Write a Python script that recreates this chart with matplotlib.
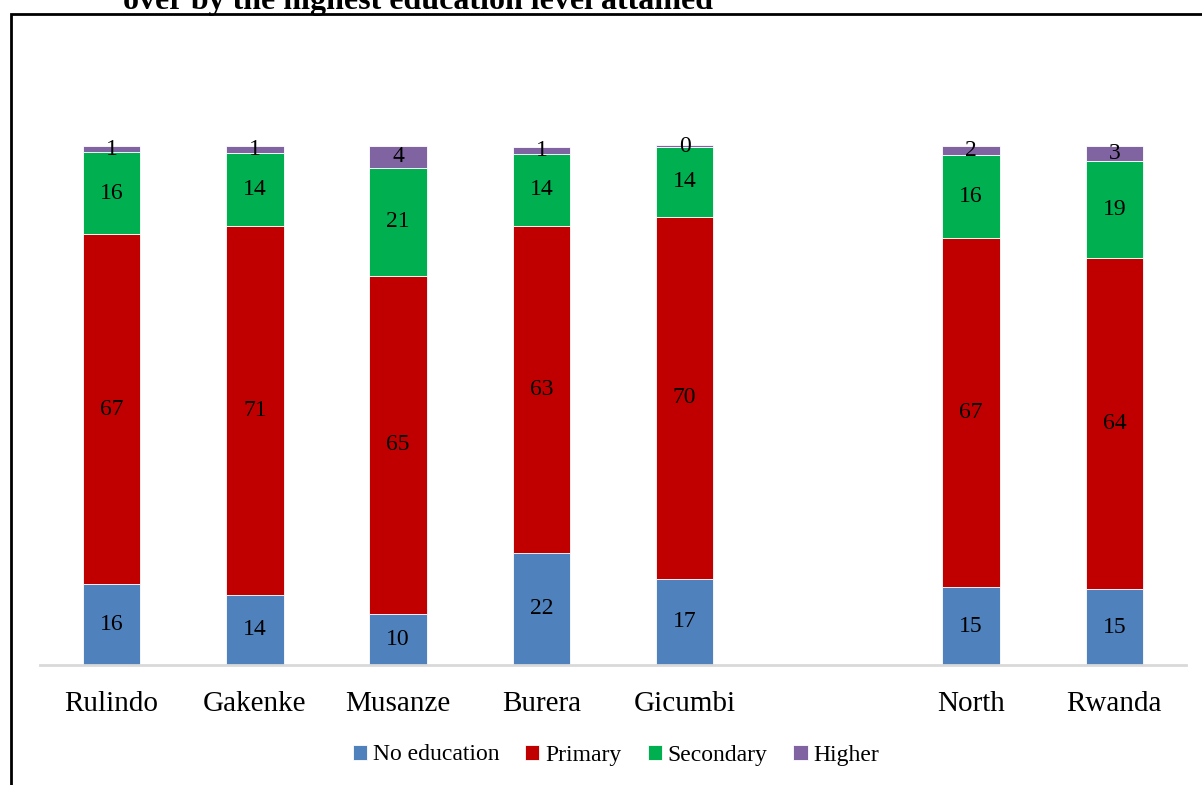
import numpy as np
import matplotlib.pyplot as plt
from matplotlib.patches import Rectangle

plt.rcParams['font.family'] = ['Liberation Serif', 'DejaVu Serif']

# data (percent), blank slot between districts and North/Rwanda
districts = ['Rulindo', 'Gakenke', 'Musanze', 'Burera', 'Gicumbi', 'North', 'Rwanda']
positions = [0, 1, 2, 3, 4, 6, 7]
no_education = [15.6, 13.5, 9.8, 21.6, 16.6, 15.0, 14.6]
primary = [67.4, 71.1, 65.2, 63.0, 69.7, 67.3, 63.8]
secondary = [15.8, 14.1, 20.8, 13.9, 13.6, 16.0, 18.7]
higher = [1.2, 1.3, 4.2, 1.4, 0.2, 1.7, 2.9]

series = [('No education', no_education, '#4F81BD'),
          ('Primary', primary, '#C00000'),
          ('Secondary', secondary, '#00B050'),
          ('Higher', higher, '#8064A2')]

W, H = 1202, 785
fig = plt.figure(figsize=(W / 100, H / 100), dpi=100)
ax = fig.add_axes([40 / W, 1 - 665 / H, (1186 - 40) / W, (665 - 146) / H])

bottom = np.zeros(len(districts))
for name, vals, col in series:
    vals = np.array(vals)
    ax.bar(positions, vals, width=0.4, bottom=bottom, color=col,
           edgecolor='white', linewidth=0.6, label=name, clip_on=False)
    for x, b, v in zip(positions, bottom, vals):
        ax.text(x, b + v / 2, f'{v:.0f}', ha='center', va='center', fontsize=17)
    bottom += vals

ax.set_xlim(-0.5, 7.5)
ax.set_ylim(0, 100)
ax.set_yticks([])
ax.set_xticks(positions)
ax.set_xticklabels(districts, fontsize=21)
ax.tick_params(axis='x', length=0, pad=19)
for s in ['top', 'right', 'left']:
    ax.spines[s].set_visible(False)
ax.spines['bottom'].set_color('#D9D9D9')
ax.spines['bottom'].set_linewidth(2)

fig.legend(loc='center', bbox_to_anchor=(616 / W, 1 - 755 / H), ncol=4,
           frameon=False, fontsize=17, handlelength=0.6, handleheight=0.6,
           handletextpad=0.25, columnspacing=1.1)

# outer frame and cut-off title
fig.patches.append(Rectangle((11 / W, -0.1), 1.2, 1 - 14 / H + 0.1,
                             transform=fig.transFigure, fill=False,
                             edgecolor='black', linewidth=2))
fig.text(123 / W, 1 - 9 / H, 'over by the highest education level attained',
         ha='left', va='baseline', fontsize=23, fontweight='bold')

fig.savefig('out.png', dpi=100)
